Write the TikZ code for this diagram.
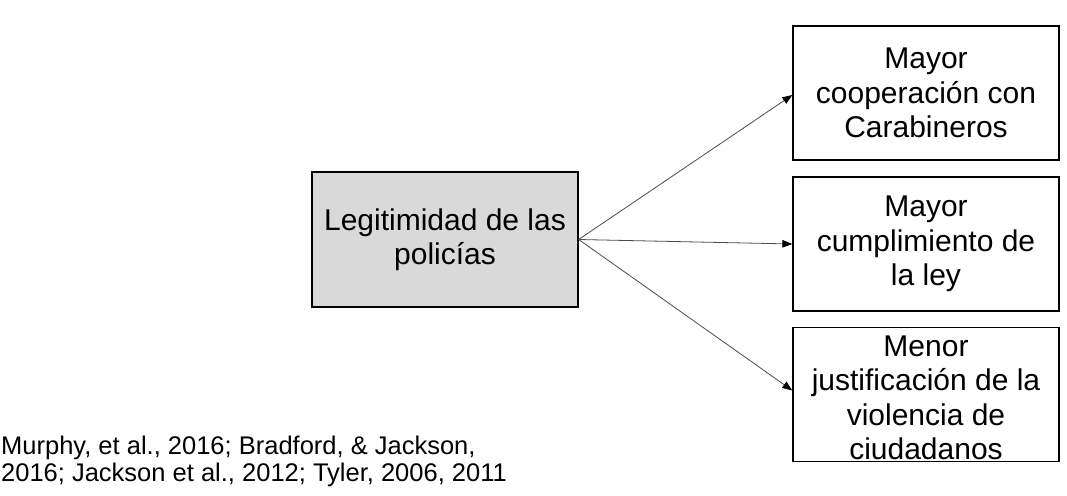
\documentclass[tikz,border=0pt]{standalone}
\usepackage{fontspec}
\setmainfont{Liberation Sans}
\usetikzlibrary{arrows.meta}
\tikzset{
  boxbase/.style={draw=black, line width=1.3pt, inner sep=0pt, align=center,
    font=\fontsize{30}{34.5}\selectfont},
  causebox/.style={boxbase, fill={rgb,255:red,217;green,217;blue,217}, minimum width=266pt, minimum height=135pt},
  effectbox/.style={boxbase, minimum width=266pt, minimum height=134pt},
  boxtext/.style={align=center, inner sep=0pt, font=\fontsize{30}{34.5}\selectfont},
  link/.style={draw={rgb,255:red,75;green,75;blue,75}, line width=0.8pt,
    -{Triangle[length=10pt,width=7.5pt,fill=black,color=black]}},
  cite/.style={align=left, inner sep=0pt, anchor=north west, font=\fontsize{25.5}{27}\selectfont}
}
\begin{document}
\begin{tikzpicture}[x=1pt,y=-1pt]
\useasboundingbox (0,0) rectangle (1067,495);
\node[causebox] (cause) at (445,239.5) {Legitimidad de las\\policías};
\node[effectbox] (e1) at (926,93) {Mayor\\cooperación con\\Carabineros};
\node[effectbox] (e2) at (926,244) {Mayor\\cumplimiento de\\la ley};
\node[effectbox] (e3) at (926,394.5) {};
\node[boxtext] (e3t) at (926,398) {Menor\\justificación de la\\violencia de\\ciudadanos};
\draw[link] (cause.east) -- ([yshift=-2pt]e1.west);
\draw[link] (cause.east) -- (e2.west);
\draw[link] (cause.east) -- ([yshift=4pt]e3.west);
\node[cite] (ref) at (1,436) {Murphy, et al., 2016; Bradford, \& Jackson,\\2016; Jackson et al., 2012; Tyler, 2006, 2011};
\end{tikzpicture}
\end{document}
